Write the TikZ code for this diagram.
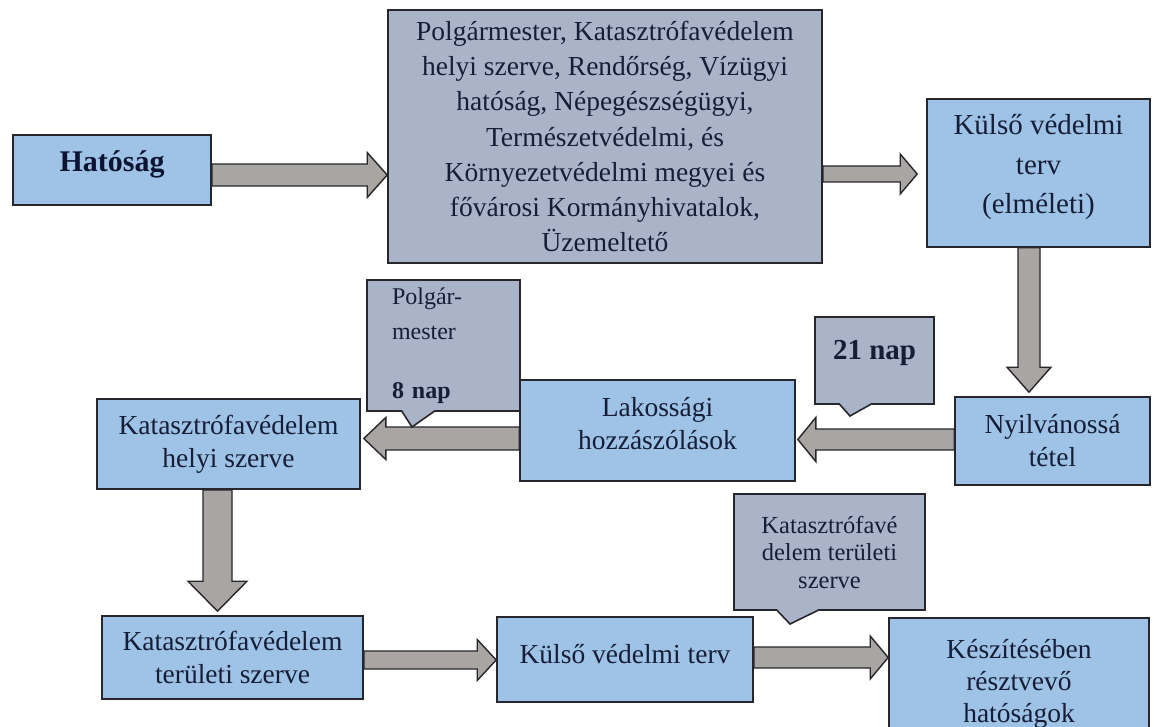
\documentclass[tikz,border=0pt]{standalone}
\usepackage{fontspec}
\setmainfont{Liberation Serif}
\usetikzlibrary{calc,shapes.callouts}
\definecolor{boxblue}{RGB}{158,195,230}
\definecolor{boxgray}{RGB}{170,180,201}
\definecolor{arrowgray}{RGB}{168,165,162}
\definecolor{edge}{RGB}{38,38,44}
\definecolor{ink}{RGB}{22,30,55}
\definecolor{hatink}{RGB}{12,20,50}
\newcommand\dstrut[1]{\rule[-#1pt]{0pt}{#1pt}}
\tikzset{
  box/.style={draw=edge, line width=1.6pt, fill=boxblue, inner sep=0pt, align=center,
    text=ink, font=\fontsize{27.5}{33}\selectfont},
  gbox/.style={box, fill=boxgray},
  callbox/.style={rectangle callout, draw=edge, line width=1.6pt, fill=boxgray,
    inner sep=0pt, text=ink},
  blockarrow/.style={draw=edge, line width=1.4pt, fill=arrowgray, line join=miter},
}
\newcommand\blkarrow[5]{%
  \path (#1); \pgfgetlastxy{\bax}{\bay}%
  \path (#2); \pgfgetlastxy{\bbx}{\bby}%
  \pgfmathsetmacro\blen{veclen(\bbx-\bax,\bby-\bay)}%
  \pgfmathsetmacro\bang{atan2(\bby-\bay,\bbx-\bax)}%
  \draw[blockarrow, shift={(#1)}, rotate=\bang]
    (0,-#3) -- (\blen-#5,-#3) -- (\blen-#5,-#4) -- (\blen,0)
    -- (\blen-#5,#4) -- (\blen-#5,#3) -- (0,#3) -- cycle;}
\begin{document}
\begin{tikzpicture}[x=1pt,y=-1pt]
\useasboundingbox (0,0) rectangle (1154,727);
\fill[white] (0,0) rectangle (1154,727);
\clip (0,0) rectangle (1154,727);

% boxes
\node[box, minimum width=198pt, minimum height=70pt, text=hatink,
  font=\bfseries\fontsize{30}{36}\selectfont] (hat) at (112,170) {Hatóság\dstrut{17}};
\node[gbox, minimum width=434pt, minimum height=253pt,
  font=\fontsize{27.5}{35.2}\selectfont] (big) at (605,136.5)
  {Polgármester, Katasztrófavédelem\\helyi szerve, Rendőrség, Vízügyi\\hatóság, Népegészségügyi,\\Természetvédelmi, és\\Környezetvédelmi megyei és\\fővárosi Kormányhivatalok,\\Üzemeltető};
\node[box, minimum width=223pt, minimum height=148pt,
  font=\fontsize{29}{39.5}\selectfont] (kt) at (1038.5,173)
  {Külső védelmi\\terv\\(elméleti)\dstrut{18}};
\node[box, minimum width=195pt, minimum height=88pt] (ny) at (1052.5,441)
  {Nyilvánossá\\tétel};
\node[box, minimum width=275pt, minimum height=101pt] (lak) at (657.5,430.5)
  {Lakossági\\hozzászólások\dstrut{15}};
\node[box, minimum width=263pt, minimum height=90pt] (kh) at (228.5,444)
  {Katasztrófavédelem\\helyi szerve};
\node[box, minimum width=261pt, minimum height=83pt] (kter) at (232.5,657.5)
  {Katasztrófavédelem\\területi szerve};
\node[box, minimum width=256pt, minimum height=85pt] (kb) at (625,659.5)
  {Külső védelmi terv\dstrut{11}};
\node[box, minimum width=260pt, minimum height=132pt,
  font=\fontsize{27.5}{32}\selectfont] (kesz) at (1019,684)
  {Készítésében\\résztvevő\\hatóságok};

% arrow end points
\coordinate (a1s) at (hat.east |- 0,175);
\coordinate (a1t) at (big.west |- 0,175);
\coordinate (a2s) at (big.east |- 0,174);
\coordinate (a2t) at ($(kt.west |- 0,174)+(-9,0)$);
\coordinate (a3s) at (kt.south -| 1029,0);
\coordinate (a3t) at ($(ny.north -| 1029,0)+(0,-4)$);
\coordinate (a4s) at (ny.west |- 0,439.5);
\coordinate (a4t) at ($(lak.east |- 0,439.5)+(2,0)$);
\coordinate (a5s) at (lak.west |- 0,438.5);
\coordinate (a5t) at ($(kh.east |- 0,438.5)+(3,0)$);
\coordinate (a6s) at (kh.south -| 217.5,0);
\coordinate (a6t) at ($(kter.north -| 217.5,0)+(0,-4)$);
\coordinate (a7s) at (kter.east |- 0,660);
\coordinate (a7t) at (kb.west |- 0,660);
\coordinate (a8s) at (kb.east |- 0,657.5);
\coordinate (a8t) at (kesz.west |- 0,657.5);

% block arrows: start, tip, shaft half width, head half width, head length
\blkarrow{a1s}{a1t}{11}{22.5}{20}
\blkarrow{a2s}{a2t}{8}{20}{17}
\blkarrow{a3s}{a3t}{11}{22}{25}
\blkarrow{a4s}{a4t}{10.5}{22}{18}
\blkarrow{a5s}{a5t}{11.5}{21}{22}
\blkarrow{a6s}{a6t}{14.5}{29.5}{30}
\blkarrow{a7s}{a7t}{9}{20.5}{19}
\blkarrow{a8s}{a8t}{10.5}{21.5}{18}

% callouts
\node[callbox, minimum width=153pt, minimum height=131pt, text width=103pt, align=left,
  font=\fontsize{24}{35}\selectfont,
  callout absolute pointer={(412,427)}, callout pointer width=33pt] (pm) at (443.5,345.5)
  {Polgár-\\mester\\[24pt]\textbf{8 nap}};
\node[callbox, minimum width=119pt, minimum height=87pt,
  font=\bfseries\fontsize{29}{34}\selectfont,
  callout absolute pointer={(850,416)}, callout pointer width=32pt] (n21) at (874.5,360.5)
  {21 nap\dstrut{21}};
\node[callbox, minimum width=191pt, minimum height=116pt, align=center,
  font=\fontsize{24.5}{27.5}\selectfont,
  callout absolute pointer={(790,624)}, callout pointer width=42pt] (kv) at (829.5,552)
  {Katasztrófavé\\delem területi\\szerve};
\end{tikzpicture}
\end{document}
